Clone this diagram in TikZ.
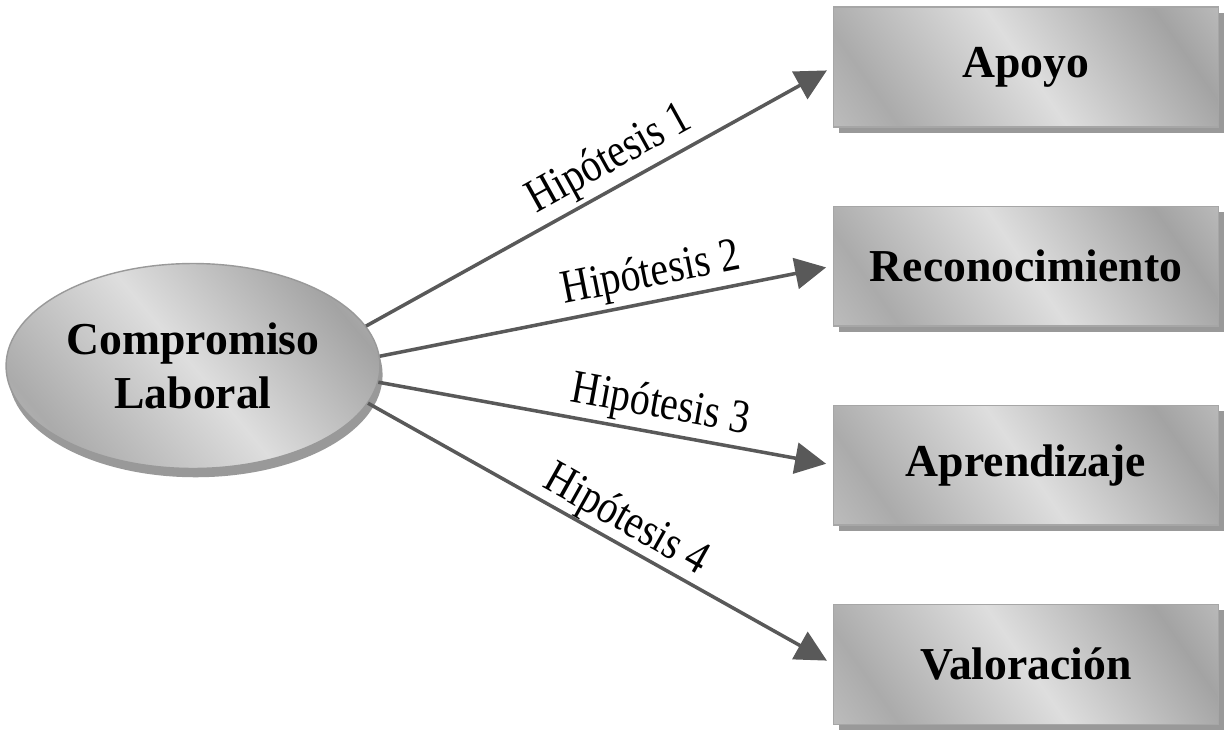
\documentclass[tikz,border=0pt]{standalone}
\usepackage{fontspec}
\usepackage{graphicx}
\setmainfont{Liberation Serif}
\usetikzlibrary{positioning,arrows.meta,shadows,shapes.geometric}
\pgfdeclarehorizontalshading{metal}{100bp}{color(0bp)=(black!16); color(25bp)=(black!33); color(50bp)=(black!13); color(75bp)=(black!36); color(100bp)=(black!14)}
\newcommand{\hiptext}[1]{\scalebox{0.84}[1]{#1}}

\begin{document}
\begin{tikzpicture}[x=0.02cm, y=-0.02cm, node distance=1.56cm,
    caja/.style={draw=black!35, line width=0.6pt, rectangle, shading=metal, shading angle=35,
      minimum width=7.7cm, minimum height=2.4cm, font=\fontsize{26}{31}\selectfont\bfseries,
      drop shadow={shadow xshift=3pt, shadow yshift=-3.5pt, fill=black!40, opacity=1}},
    elipse/.style={draw=black!40, line width=0.8pt, ellipse, shading=metal, shading angle=40,
      minimum width=7.48cm, minimum height=4.1cm, align=center, inner sep=0pt,
      font=\fontsize{26}{30.7}\selectfont\bfseries,
      drop shadow={shadow xshift=1.5pt, shadow yshift=-5pt, fill=black!40, opacity=1}},
    flecha/.style={draw=black!65, line width=2pt, -{Triangle[length=0.62cm,width=0.62cm]}, shorten >=4pt},
    hip/.style={sloped, above, font=\fontsize{27}{31}\selectfont, inner sep=2pt}]
        \useasboundingbox (0,0) rectangle (1231,737);
        \node[elipse] (compromiso) at (193,366) {Compromiso\\Laboral};
        \node[caja] (apoyo) at (1026,67) {Apoyo};
        \node[caja, below=of apoyo] (reconocimiento) {Reconocimiento};
        \node[caja, below=of reconocimiento] (aprendizaje) {Aprendizaje};
        \node[caja, below=of aprendizaje] (valoracion) {Valoración};

        \draw[flecha] (compromiso.13) -- node[hip, pos=0.55] {\hiptext{Hipótesis 1}} (apoyo.west);
        \draw[flecha] (compromiso.3.5) -- node[hip, pos=0.61] {\hiptext{Hipótesis 2}} (reconocimiento.west);
        \draw[flecha] (compromiso.-5) -- node[hip, pos=0.61] {\hiptext{Hipótesis 3}} (aprendizaje.west);
        \draw[flecha] (compromiso.-12.5) -- node[hip, pos=0.53, inner sep=0pt] {\hiptext{Hipótesis 4}} (valoracion.west);
    \end{tikzpicture}
\end{document}
